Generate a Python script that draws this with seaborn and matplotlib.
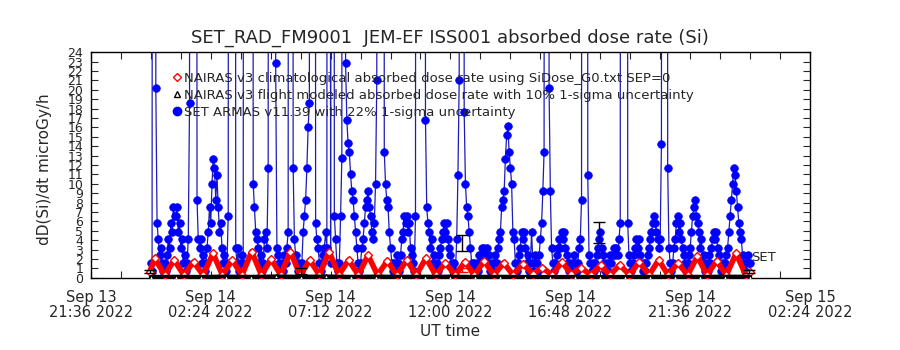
import pandas as pd
import numpy as np
import seaborn as sns
import matplotlib
matplotlib.use("Agg")
import matplotlib.pyplot as plt
import matplotlib.dates as mdates
from matplotlib.lines import Line2D

AXIS_START = pd.Timestamp("2022-09-13 21:36")
AXIS_END = pd.Timestamp("2022-09-15 02:24")
DAY_START = pd.Timestamp("2022-09-14 00:00")

TITLE = "SET_RAD_FM9001  JEM-EF ISS001 absorbed dose rate (Si)"
LEGEND_LABELS = [
    "NAIRAS v3 climatological absorbed dose rate using SiDose_G0.txt SEP=0",
    "NAIRAS v3 flight modeled absorbed dose rate with 10% 1-sigma uncertainty",
    "SET ARMAS v11.39 with 22% 1-sigma uncertainty",
]

# SET ARMAS dose rate (microGy/h), one reading every 3 min from 00:00, one row per hour
# (values of 300 are the off-scale spikes)
armas_dose = [
    1.6, 0.7, 300, 300, 20.2, 5.8, 4.1, 2.4, 3.2, 1.6, 0.7, 1.6, 0.7, 2.4, 4.1, 3.2, 5.8, 4.9, 7.5, 6.6,
    6.6, 7.5, 4.9, 5.8, 3.2, 4.1, 1.6, 2.4, 0.7, 1.6, 4.1, 18.6, 300, 300, 300, 300, 300, 8.3, 4.1, 3.2,
    4.1, 1.6, 2.4, 0.7, 1.6, 3.2, 4.9, 7.5, 5.8, 10.0, 12.6, 11.7, 8.3, 10.9, 7.5, 4.9, 5.8, 3.2, 1.6, 2.4,
    0.7, 1.6, 6.6, 300, 300, 300, 300, 300, 3.2, 1.6, 3.2, 0.7, 1.6, 2.4, 1.6, 300, 300, 300, 300, 300,
    300, 300, 10.0, 7.5, 4.9, 4.1, 3.2, 1.6, 2.4, 0.7, 1.6, 4.1, 4.9, 3.2, 11.7, 300, 300, 300, 300, 300,
    22.8, 3.2, 2.4, 1.6, 0.7, 1.6, 0.7, 2.4, 1.6, 3.2, 4.9, 300, 300, 300, 11.7, 4.1, 2.4, 1.6, 0.7, 1.6,
    0.7, 1.6, 4.9, 6.6, 8.3, 11.7, 16.0, 18.6, 300, 300, 300, 300, 5.8, 4.1, 3.2, 1.6, 0.7, 1.6, 2.4, 3.2,
    4.9, 3.2, 300, 300, 1.6, 300, 300, 6.6, 4.1, 1.6, 0.7, 1.6, 6.6, 12.7, 300, 300, 22.8, 16.8, 14.3, 13.4,
    11.0, 9.2, 8.3, 6.6, 4.9, 3.2, 1.6, 0.7, 1.6, 3.2, 4.1, 5.8, 7.5, 8.3, 9.2, 7.5, 6.6, 4.9, 4.1, 5.8,
    10.0, 21.0, 300, 300, 300, 300, 300, 13.4, 10.0, 8.3, 7.5, 4.9, 3.2, 1.6, 0.7, 1.6, 0.7, 2.4, 1.6, 0.7,
    2.4, 4.1, 4.9, 6.6, 5.8, 6.6, 4.9, 5.8, 3.2, 2.4, 1.6, 0.7, 6.6, 300, 300, 300, 300, 300, 300, 300,
    16.8, 7.5, 5.8, 4.9, 3.2, 4.1, 1.6, 2.4, 0.7, 1.6, 0.7, 2.4, 3.2, 4.1, 4.9, 5.8, 4.9, 5.8, 4.1, 3.2,
    2.4, 1.6, 0.7, 1.6, 0.7, 4.1, 10.9, 21.0, 300, 300, 300, 17.6, 10.0, 7.5, 6.6, 4.9, 3.2, 1.6, 0.7, 1.6,
    0.7, 1.6, 0.7, 2.4, 1.6, 3.2, 2.4, 3.2, 2.4, 3.2, 1.6, 2.4, 0.7, 1.6, 0.7, 1.6, 2.4, 1.6, 3.2, 4.1,
    4.9, 7.5, 8.3, 9.2, 12.6, 15.2, 16.1, 13.4, 11.7, 10.0, 4.9, 4.1, 1.6, 0.7, 1.6, 2.4, 3.2, 4.9, 4.1, 4.9,
    3.2, 1.6, 2.4, 0.7, 1.6, 4.9, 1.6, 0.7, 2.4, 1.6, 0.7, 2.4, 4.1, 5.8, 9.2, 13.4, 300, 300, 300, 20.2,
    9.2, 3.2, 1.6, 0.7, 1.6, 2.4, 3.2, 4.1, 3.2, 4.9, 4.1, 4.9, 3.2, 2.4, 1.6, 0.7, 1.6, 0.7, 1.6, 2.4,
    1.6, 0.7, 1.6, 3.2, 4.1, 8.3, 300, 300, 300, 300, 10.9, 2.4, 1.6, 0.7, 1.6, 0.7, 1.6, 2.4, 3.2, 4.1,
    4.9, 3.2, 2.4, 1.6, 0.7, 1.6, 0.7, 1.6, 2.4, 1.6, 2.4, 3.2, 2.4, 3.2, 2.4, 4.1, 5.8, 300, 300, 300,
    300, 300, 5.8, 2.4, 1.6, 0.7, 1.6, 2.4, 3.2, 4.1, 3.2, 4.1, 2.4, 1.6, 0.7, 1.6, 0.7, 1.6, 2.4, 3.2,
    4.1, 4.9, 5.8, 6.6, 5.8, 4.9, 4.1, 3.2, 4.1, 14.2, 300, 300, 300, 300, 11.7, 3.2, 1.6, 0.7, 1.6, 3.2,
    4.1, 5.8, 6.6, 4.9, 5.8, 4.1, 3.2, 2.4, 1.6, 0.7, 1.6, 2.4, 3.2, 4.9, 6.6, 7.5, 8.3, 6.6, 5.8, 4.9,
    3.2, 4.1, 1.6, 2.4, 0.7, 1.6, 0.7, 2.4, 1.6, 3.2, 4.1, 4.9, 4.1, 4.9, 3.2, 2.4, 1.6, 0.7, 1.6, 0.7,
    1.6, 2.4, 3.2, 4.9, 6.6, 8.3, 10.0, 11.7, 10.9, 9.2, 7.5, 5.8, 4.9, 4.1, 2.4, 1.6, 0.7, 1.6, 2.4, 1.6,
    1.6,
]

# NAIRAS climatological model: turning points of the orbital oscillation (hours after 00:00)
clim_hours = [
    -0.05, 0.16, 0.55, 0.94, 1.32, 1.71, 2.10, 2.49, 2.87, 3.26, 3.65, 4.04,
    4.43, 4.82, 5.20, 5.59, 5.98, 6.37, 6.75, 7.14, 7.53, 7.92, 8.31, 8.70,
    9.08, 9.47, 9.86, 10.25, 10.63, 11.02, 11.41, 11.80, 12.19, 12.58, 12.96, 13.35,
    13.74, 14.13, 14.51, 14.90, 15.29, 15.68, 16.07, 16.46, 16.84, 17.23, 17.62, 18.01,
    18.39, 18.78, 19.17, 19.56, 19.95, 20.34, 20.72, 21.11, 21.50, 21.89, 22.27, 22.66,
    23.05, 23.44, 23.83, 24.0,
]
clim_dose = [
    0.6, 2.1, 0.3, 1.9, 0.3, 1.7, 0.3, 2.6, 0.3, 1.9, 0.3, 2.8,
    0.3, 2.0, 0.3, 2.8, 0.3, 1.9, 0.3, 2.8, 0.3, 1.9, 0.3, 2.4,
    0.3, 1.8, 0.3, 1.9, 0.3, 2.1, 0.3, 1.6, 0.3, 1.7, 0.3, 1.8,
    0.3, 1.6, 0.3, 1.5, 0.4, 1.1, 0.3, 1.7, 0.4, 1.1, 0.3, 1.4,
    0.3, 1.4, 0.3, 1.7, 0.3, 1.9, 0.3, 1.6, 0.3, 2.3, 0.3, 1.8,
    0.3, 2.6, 0.3, 0.6,
]

# NAIRAS flight model, hourly
flight_hours = list(range(25))
flight_dose = [
    0.10, 0.12, 0.10, 0.14, 0.11, 0.15, 0.12, 0.15, 0.11, 0.14, 0.12, 0.12,
    0.13, 0.11, 0.12, 0.10, 0.09, 0.11, 0.09, 0.10, 0.11, 0.12, 0.11, 0.13, 0.12,
]

# 1-sigma error bars drawn every ~6 h
err_hours = [-0.04, 6.0, 12.48, 17.96, 23.96]
err_center = [0.65, 0.7, 3.7, 4.85, 0.65]
err_sigma = [0.15, 0.3, 0.85, 1.1, 0.15]
clim_err_hours = [12.48, 17.96]
clim_err_center = [0.85, 0.9]
clim_err_sigma = [0.2, 0.2]


def hours_to_time(h):
    return DAY_START + pd.to_timedelta(np.asarray(h, dtype=float), unit="h")


sns.set_style("ticks")
plt.rcParams["font.family"] = ["DejaVu Sans"]

fig = plt.figure(figsize=(9, 3.5), dpi=100)
ax = fig.add_axes([0.101, 0.206, 0.799, 0.645])

armas_time = pd.date_range(DAY_START, periods=len(armas_dose), freq="3min")
sns.lineplot(x=armas_time, y=armas_dose, ax=ax, estimator=None, sort=False,
             color="#1c1cb8", lw=0.9, marker="o", ms=5.5, mfc="#0000ff",
             mec="#0000ff", mew=0.5, zorder=2)

sns.lineplot(x=hours_to_time(clim_hours), y=clim_dose, ax=ax, estimator=None, sort=False,
             color="#ff0000", lw=4, marker="D", ms=4, mfc="white", mec="#ff0000",
             mew=1, zorder=3)

sns.lineplot(x=hours_to_time(flight_hours), y=flight_dose, ax=ax, estimator=None,
             sort=False, color="black", lw=3, marker="^", ms=3, mfc="white",
             mec="black", mew=0.8, zorder=4)

ax.errorbar(hours_to_time(err_hours).to_pydatetime(), err_center, yerr=err_sigma,
            fmt="none", ecolor="black", elinewidth=1, capsize=4, capthick=1, zorder=5)
ax.errorbar(hours_to_time(clim_err_hours).to_pydatetime(), clim_err_center,
            yerr=clim_err_sigma, fmt="none", ecolor="#ff0000", elinewidth=1,
            capsize=4, capthick=1, zorder=5)

ax.text(hours_to_time([24.05])[0], 1.5, "SET", fontsize=9.5, ha="left", va="bottom")

# axes
ax.set_xlim(AXIS_START, AXIS_END)
ax.set_ylim(0, 24)
major = pd.date_range(AXIS_START, AXIS_END, freq="288min")
minor = pd.date_range(AXIS_START, AXIS_END, freq="72min")
ax.set_xticks(mdates.date2num(major))
ax.set_xticks(mdates.date2num(minor), minor=True)
ax.xaxis.set_major_formatter(mdates.DateFormatter("%b %d\n%H:%M %Y"))
ax.set_yticks(range(25))
ax.tick_params(axis="x", which="both", direction="in", top=True, length=5,
               width=0.8, labelsize=10.5, pad=9)
ax.tick_params(axis="y", which="both", direction="in", right=True, length=5,
               width=0.8, labelsize=9, pad=5.5)
for lab in ax.get_xticklabels():
    lab.set_linespacing(0.95)
for sp in ax.spines.values():
    sp.set_color("black")
    sp.set_linewidth(1)
ax.set_xlabel("")
ax.set_ylabel("")

handles = [
    Line2D([], [], ls="none", marker="D", ms=4, mfc="white", mec="#ff0000", mew=1),
    Line2D([], [], ls="none", marker="^", ms=5, mfc="white", mec="black", mew=1),
    Line2D([], [], ls="none", marker="o", ms=6, mfc="#0000ff", mec="#0000ff"),
]
ax.legend(handles, LEGEND_LABELS, loc="upper left", bbox_to_anchor=(0.113, 0.914),
          frameon=False, fontsize=9.5, handlelength=0.7, handletextpad=0.2,
          labelspacing=0.32, borderpad=0, borderaxespad=0)

fig.text(0.5, 1 - 38 / 350, TITLE, ha="center", va="center", fontsize=13)
fig.text(45 / 900, 1 - 169 / 350, "dD(Si)/dt microGy/h", rotation=90,
         ha="center", va="center", fontsize=11)
fig.text(0.5, 1 - 332 / 350, "UT time", ha="center", va="center", fontsize=11)

fig.savefig("out.png", dpi=100)
